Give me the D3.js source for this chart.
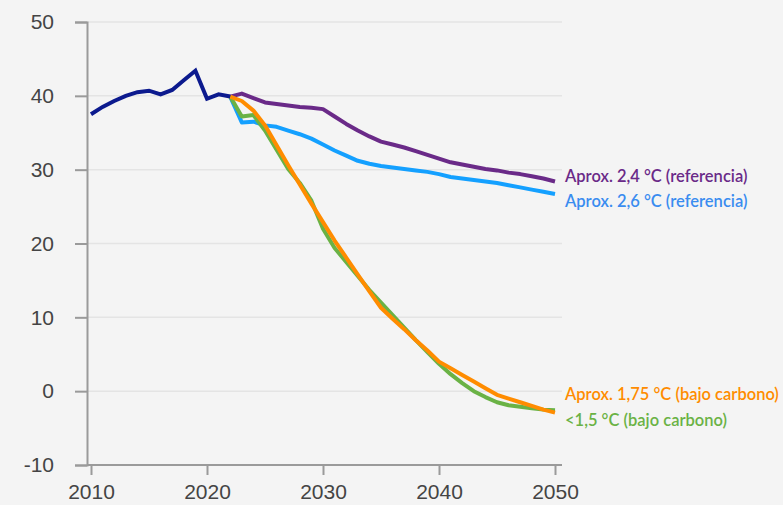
<!DOCTYPE html>
<html>
<head>
<meta charset="utf-8">
<script src="https://cdn.jsdelivr.net/npm/d3@7"></script>
<style>
  body { margin: 0; background: #f4f4f4; }
  svg { display: block; font-family: Lato, "Noto Sans", sans-serif; }
</style>
</head>
<body>
<script>
// Datos
var historicYears = [2010, 2011, 2012, 2013, 2014, 2015, 2016, 2017, 2018, 2019, 2020, 2021, 2022];
var historicValues = [37.5, 38.5, 39.3, 40.0, 40.5, 40.7, 40.2, 40.8, 42.1, 43.4, 39.6, 40.2, 39.9];

var scenarioYears = d3.range(2022, 2051);
var ref24 = [39.9, 40.3, 39.7, 39.1, 38.9, 38.7, 38.5, 38.4, 38.2, 37.2, 36.2, 35.3, 34.5, 33.8,
  33.4, 33.0, 32.5, 32.0, 31.5, 31.0, 30.7, 30.4, 30.1, 29.9, 29.6, 29.4, 29.1, 28.8, 28.4];
var ref26 = [39.9, 36.4, 36.5, 36.0, 35.8, 35.3, 34.8, 34.2, 33.4, 32.6, 31.9, 31.2, 30.8, 30.5,
  30.3, 30.1, 29.9, 29.7, 29.4, 29.0, 28.8, 28.6, 28.4, 28.2, 27.9, 27.6, 27.3, 27.0, 26.7];
var low175 = [39.9, 39.3, 38.0, 36.0, 33.3, 30.6, 28.0, 25.4, 22.9, 20.4, 18.1, 15.8, 13.5, 11.3,
  9.8, 8.4, 6.9, 5.5, 4.0, 3.1, 2.2, 1.3, 0.4, -0.5, -1.0, -1.5, -2.0, -2.5, -2.9];
var low15 = [39.9, 37.2, 37.4, 35.3, 32.7, 30.1, 28.2, 25.8, 22.0, 19.4, 17.5, 15.6, 13.7, 12.0,
  10.3, 8.6, 6.9, 5.3, 3.7, 2.3, 1.1, 0.0, -0.8, -1.5, -1.9, -2.1, -2.3, -2.5, -2.6];

var seriesNames = ["Aprox. 2,4 °C (referencia)", "Aprox. 2,6 °C (referencia)",
  "Aprox. 1,75 °C (bajo carbono)", "<1,5 °C (bajo carbono)"];
var xTicks = [2010, 2020, 2030, 2040, 2050];
var yTicks = [-10, 0, 10, 20, 30, 40, 50];

var width = 783, height = 505;

var svg = d3.select("body").append("svg")
  .attr("width", width)
  .attr("height", height);

var x = d3.scaleLinear().domain([2010, 2050]).range([91, 555]);
var y = d3.scaleLinear().domain([-10, 50]).range([465, 22]);

var axisColor = "#9a9a9a";

// lineas de la cuadricula
svg.append("g").selectAll("line")
  .data(yTicks.filter(function(d) { return d > -10; }))
  .enter().append("line")
  .attr("x1", 87).attr("x2", 562)
  .attr("y1", function(d) { return y(d); })
  .attr("y2", function(d) { return y(d); })
  .attr("stroke", "#e4e4e4")
  .attr("stroke-width", 1.5);

// eje Y (guion normal en vez del signo menos)
var yAxis = svg.append("g")
  .attr("transform", "translate(87,0)")
  .call(d3.axisLeft(y).tickValues(yTicks).tickSize(12).tickPadding(21).tickFormat(String));
yAxis.select(".domain").attr("stroke", axisColor).attr("stroke-width", 2);
yAxis.selectAll(".tick line").attr("stroke", axisColor).attr("stroke-width", 2);
yAxis.selectAll("text").attr("fill", "#444").style("font-size", "21px");

// eje X
var xAxis = svg.append("g")
  .attr("transform", "translate(0,465)")
  .call(d3.axisBottom(x).tickValues(xTicks).tickSize(10).tickSizeOuter(0).tickPadding(9).tickFormat(String));
xAxis.select(".domain").attr("stroke", axisColor).attr("stroke-width", 2)
  .attr("d", "M87,0H562");
xAxis.selectAll(".tick line").attr("stroke", axisColor).attr("stroke-width", 2);
xAxis.selectAll("text").attr("fill", "#444").style("font-size", "21px");

var line = d3.line()
  .x(function(d) { return x(d[0]); })
  .y(function(d) { return y(d[1]); });

var scenarios = [
  { name: seriesNames[0], values: ref24, color: "#6a2a88", text: "#6a2a88", dy: -5 },
  { name: seriesNames[1], values: ref26, color: "#14a0ff", text: "#3a8cf0", dy: 7 },
  { name: seriesNames[2], values: low175, color: "#ff8c00", text: "#ff8c00", dy: -18 },
  { name: seriesNames[3], values: low15, color: "#6ab245", text: "#6ab245", dy: 10 }
];

// orden de dibujo: verde debajo de naranja
var drawOrder = [scenarios[1], scenarios[0], scenarios[3], scenarios[2]];

svg.append("g").selectAll("path")
  .data(drawOrder)
  .enter().append("path")
  .attr("d", function(s) {
    return line(scenarioYears.map(function(yr, i) { return [yr, s.values[i]]; }));
  })
  .attr("fill", "none")
  .attr("stroke", function(s) { return s.color; })
  .attr("stroke-width", 4)
  .attr("stroke-linejoin", "round");

// historico
svg.append("path")
  .attr("d", line(historicYears.map(function(yr, i) { return [yr, historicValues[i]]; })))
  .attr("fill", "none")
  .attr("stroke", "#0c1a8e")
  .attr("stroke-width", 4)
  .attr("stroke-linejoin", "miter");

// etiquetas
svg.append("g").selectAll("text")
  .data(scenarios)
  .enter().append("text")
  .attr("x", 565)
  .attr("y", function(s) { return y(s.values[s.values.length - 1]) + s.dy; })
  .attr("dy", "0.35em")
  .attr("fill", function(s) { return s.text; })
  .style("font-size", "16.5px")
  .style("font-weight", "600")
  .text(function(s) { return s.name; });
</script>
</body>
</html>
